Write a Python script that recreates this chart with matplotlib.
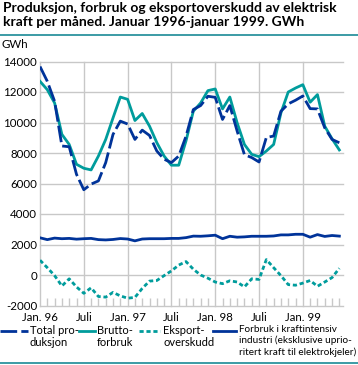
import matplotlib
matplotlib.use("Agg")
import matplotlib.pyplot as plt
from matplotlib.lines import Line2D
import numpy as np

plt.rcParams['font.family'] = ['Lato', 'DejaVu Sans']

# monthly values, Jan 1996 - Jun 1999 (GWh)
total_produksjon = [13670, 12700, 11390, 8460, 8410, 6600, 5590, 5960, 6170, 7370, 9220, 10090,
                    9900, 8890, 9500, 9150, 8130, 7590, 7370, 7800, 9100, 10850, 11110, 11720,
                    11650, 10200, 11110, 9440, 7890, 7700, 7410, 9020, 9110, 10740, 11220, 11460,
                    11740, 10910, 10890, 9650, 8890, 8670]
bruttoforbruk = [12700, 12150, 11280, 9220, 8560, 7260, 7000, 6890, 7800, 8890, 10300, 11670,
                 11520, 10130, 10590, 9760, 8680, 7800, 7200, 7200, 8800, 10740, 11280, 12090,
                 12200, 10890, 11670, 9980, 8560, 7910, 7760, 8130, 8560, 10630, 12000, 12260,
                 12480, 11330, 11830, 9760, 8930, 8200]
eksportoverskudd = [970, 480, -40, -720, -250, -780, -1200, -840, -1410, -1450, -1140, -1370,
                    -1520, -1470, -880, -400, -360, -40, 270, 650, 880, 380,
                    0, -210, -460, -570, -380, -460, -780, -250, -290, 1010, 480, -40,
                    -630, -670, -530, -360, -740, -460, -170, 440]
industri = [2440, 2320, 2420, 2380, 2400, 2350, 2380, 2400, 2320, 2300, 2330, 2390,
            2360, 2240, 2360, 2380, 2380, 2380, 2400, 2400, 2450, 2550, 2540, 2570,
            2610, 2380, 2540, 2480, 2500, 2540, 2540, 2540, 2560, 2630, 2630, 2670,
            2670, 2480, 2650, 2530, 2590, 2550]

major_pos = [0, 6, 12, 18, 24, 30, 36]
major_labels = ['Jan. 96', 'Juli', 'Jan. 97', 'Juli', 'Jan. 98', 'Juli', 'Jan. 99']
y_ticks = [-2000, 0, 2000, 4000, 6000, 8000, 10000, 12000, 14000]

dark_blue = '#003399'
teal = '#009c9c'
grid_col = '#c8c8c8'

W, H = 358, 365
fig = plt.figure(figsize=(W / 100, H / 100), dpi=100)

def fx(px):
    return px / W

def fy(py):
    return 1 - py / H

ax = fig.add_axes([fx(40), fy(305.5), fx(343) - fx(40), fy(61.5) - fy(305.5)])
months = np.arange(len(total_produksjon))

ax.plot(months, bruttoforbruk, color=teal, lw=2)
ax.plot(months, total_produksjon, color=dark_blue, lw=2, dashes=(6, 1.5))
ax.plot(months, industri, color=dark_blue, lw=2)
ax.plot(months, eksportoverskudd, color=teal, lw=2, dashes=(1.5, 1))

ax.set_xlim(0, 41.5)
ax.set_ylim(-2000, 14000)
ax.set_yticks(y_ticks)
ax.set_yticklabels([str(v) for v in y_ticks], fontsize=8.3)
ax.set_xticks(major_pos)
ax.set_xticklabels(major_labels, fontsize=8.3)
ax.set_xticks(months[1:], minor=True)
ax.tick_params(axis='x', which='major', length=0, pad=4.5)
ax.tick_params(axis='x', which='minor', direction='in', length=6, color=grid_col, width=1)
ax.tick_params(axis='y', length=0, pad=2)
ax.grid(True, color=grid_col, lw=1)
ax.set_axisbelow(True)
for s in ax.spines.values():
    s.set_visible(False)
for ln in ax.get_xgridlines() + ax.get_ygridlines():
    ln.set_clip_on(False)

# title
fig.text(fx(3), fy(2), 'Produksjon, forbruk og eksportoverskudd av elektrisk\nkraft per måned. Januar 1996-januar 1999. GWh',
         fontsize=10, fontweight='bold', va='top', ha='left', linespacing=1.15)
fig.add_artist(Line2D([0, 1], [fy(35), fy(35)], color='#1a8a96', lw=1.2))
fig.add_artist(Line2D([0, 1], [fy(363), fy(363)], color='#1a8a96', lw=1.2))
fig.text(fx(2), fy(48), 'GWh', fontsize=8.3, va='baseline', ha='left')

# legend
legend_items = [
    (0, 28, dark_blue, (6, 1.5), 'Total pro-\nduksjon', 30),
    (79, 95, teal, None, 'Brutto-\nforbruk', 97),
    (139, 160, teal, (1.5, 1), 'Eksport-\noverskudd', 163),
    (213, 236, dark_blue, None, 'Forbruk i kraftintensiv\nindustri (eksklusive uprio-\nritert kraft til elektrokjeler)', 239),
]
for x0, x1, col, dash, label, tx in legend_items:
    ln = Line2D([fx(x0), fx(x1)], [fy(331), fy(331)], color=col, lw=2)
    if dash:
        ln.set_dashes(dash)
    fig.add_artist(ln)
    fs = 7.2 if tx > 200 else 8
    fig.text(fx(tx), fy(325), label, fontsize=fs, va='top', ha='left', linespacing=1.25 if tx > 200 else 1.1)

fig.savefig('out.png', dpi=100)
